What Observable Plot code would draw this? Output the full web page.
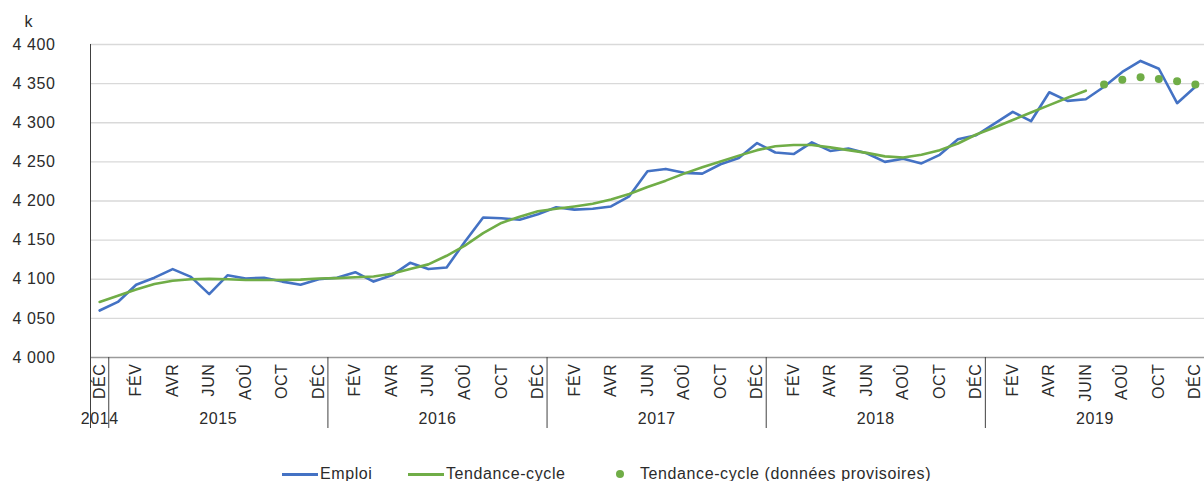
<!DOCTYPE html>
<html>
<head>
<meta charset="utf-8">
<script src="https://cdn.jsdelivr.net/npm/d3@7"></script>
<script src="https://cdn.jsdelivr.net/npm/@observablehq/plot@0.6"></script>
<style>
  html, body { margin: 0; padding: 0; background: #fff; overflow: hidden; }
  body { font-family: "Liberation Sans", Arial, sans-serif; color: #2b2b2b; }
  #chart svg { display: block; }
  #chart svg text { letter-spacing: 0.6px; }
  #legend { position: relative; height: 36px; font-size: 16px; letter-spacing: 0.6px; }
  #legend .item { position: absolute; top: 11px; height: 36px; line-height: 36px; white-space: nowrap; }
  #legend .ln { position: absolute; height: 3px; top: 28px; }
  #legend .dt { position: absolute; width: 8px; height: 8px; border-radius: 50%; top: 25px; }
</style>
</head>
<body>
<div id="chart"></div>
<div id="legend"></div>
<script>
// Mois : index 0 = décembre 2014 … index 60 = décembre 2019
const emploi = [
  4060, 4071, 4093, 4102, 4113, 4103, 4081, 4105, 4101, 4102, 4097, 4093, 4100,
  4102, 4109, 4097, 4105, 4121, 4113, 4115, 4148, 4179, 4178, 4176, 4183,
  4192, 4189, 4190, 4193, 4206, 4238, 4241, 4236, 4235, 4247, 4255, 4274,
  4262, 4260, 4275, 4264, 4267, 4261, 4250, 4254, 4248, 4259, 4279, 4284,
  4299, 4314, 4302, 4339, 4328, 4330, 4346, 4365, 4379, 4369, 4325, 4346
];
const tendance = [
  4071, 4079, 4087, 4094, 4098, 4100, 4100.5, 4100, 4099, 4099, 4099, 4099.5, 4101,
  4101.5, 4102.5, 4103.5, 4107, 4113, 4119, 4130, 4143, 4159, 4172, 4180, 4187,
  4190, 4193, 4196.5, 4202, 4209, 4218, 4226, 4235, 4243, 4250.5, 4258, 4265,
  4270, 4271.5, 4271.5, 4268.5, 4265, 4261.5, 4257, 4255.5, 4259, 4265, 4273.5, 4285,
  4294, 4303.5, 4313, 4322.5, 4332, 4341
];
const moisProvisoires = ["2019-07", "2019-08", "2019-09", "2019-10", "2019-11", "2019-12"];
const tendanceProvisoire = [4349, 4355, 4358, 4356, 4353, 4349];

const etiquettesMois = [
  "DÉC",
  "FÉV", "AVR", "JUN", "AOÛ", "OCT", "DÉC",
  "FÉV", "AVR", "JUN", "AOÛ", "OCT", "DÉC",
  "FÉV", "AVR", "JUN", "AOÛ", "OCT", "DÉC",
  "FÉV", "AVR", "JUN", "AOÛ", "OCT", "DÉC",
  "FÉV", "AVR", "JUIN", "AOÛ", "OCT", "DÉC"
];
const annees = [2014, 2015, 2016, 2017, 2018, 2019];
const yTicks = [4000, 4050, 4100, 4150, 4200, 4250, 4300, 4350, 4400];

const series = [
  {label: "Emploi", color: "#4472C4", type: "line"},
  {label: "Tendance-cycle", color: "#70AD47", type: "line"},
  {label: "Tendance-cycle (données provisoires)", color: "#70AD47", type: "dot"}
];

// helpers
const indexMois = s => { const [y, m] = s.split("-").map(Number); return (y - 2014) * 12 + (m - 12); };
const centreAnnee = y => { const fin = (y - 2014) * 12; const debut = Math.max(0, fin - 11); return (debut + fin) / 2; };
const separateurs = [-0.5, ...annees.slice(0, -1).map(y => (y - 2014) * 12 + 0.5)];
const fmt = d => String(d).replace(/\B(?=(\d{3})+(?!\d))/g, " ");

const chart = Plot.plot({
  width: 1204,
  height: 445,
  marginLeft: 90,
  marginRight: 0,
  marginTop: 44,
  marginBottom: 88,
  style: {fontFamily: "Liberation Sans, Arial, sans-serif", color: "#2b2b2b", background: "#fff"},
  x: {domain: [-0.5, 60.5]},
  y: {domain: [4000, 4400]},
  marks: [
    Plot.ruleY(yTicks.slice(1), {stroke: "#d9d9d9", strokeWidth: 1.4}),
    Plot.ruleY([4000], {stroke: "#9a9a9a", strokeWidth: 1.4}),
    Plot.ruleX([-0.5], {y1: 4000, y2: 4400, stroke: "#404040", strokeWidth: 1}),
    Plot.ruleX(separateurs, {stroke: "#404040", strokeWidth: 1, insetTop: 313, insetBottom: -71}),
    Plot.axisY({ticks: yTicks, tickFormat: fmt, tickSize: 0, tickPadding: 35, fontSize: 16, label: null}),
    Plot.axisX({
      ticks: etiquettesMois.map((_, i) => i * 2),
      tickFormat: d => etiquettesMois[d / 2],
      tickRotate: -90, tickSize: 0, tickPadding: 6, fontSize: 16, label: null
    }),
    Plot.text(annees, {x: centreAnnee, text: d => String(d), frameAnchor: "bottom", dy: 66, fontSize: 16, fill: "#2b2b2b"}),
    Plot.text(["k"], {frameAnchor: "top-left", dx: -66, dy: -29, fontSize: 16, fill: "#2b2b2b"}),
    Plot.line(emploi, {x: (d, i) => i, y: d => d, stroke: series[0].color, strokeWidth: 2.6}),
    Plot.line(tendance, {x: (d, i) => i, y: d => d, stroke: series[1].color, strokeWidth: 2.6}),
    Plot.dot(tendanceProvisoire, {x: (d, i) => indexMois(moisProvisoires[i]), y: d => d, r: 4, fill: series[2].color, stroke: "none"})
  ]
});
document.getElementById("chart").appendChild(chart);

// Legend
const legend = document.getElementById("legend");
const positions = [{sym: 282, txt: 320}, {sym: 408, txt: 446}, {sym: 616, txt: 640}];
series.forEach((s, k) => {
  const p = positions[k];
  const sym = document.createElement("div");
  if (s.type === "line") {
    sym.className = "ln";
    sym.style.left = p.sym + "px";
    sym.style.width = "36px";
  } else {
    sym.className = "dt";
    sym.style.left = p.sym + "px";
  }
  sym.style.background = s.color;
  legend.appendChild(sym);
  const t = document.createElement("div");
  t.className = "item";
  t.style.left = p.txt + "px";
  t.textContent = s.label;
  legend.appendChild(t);
});
</script>
</body>
</html>
